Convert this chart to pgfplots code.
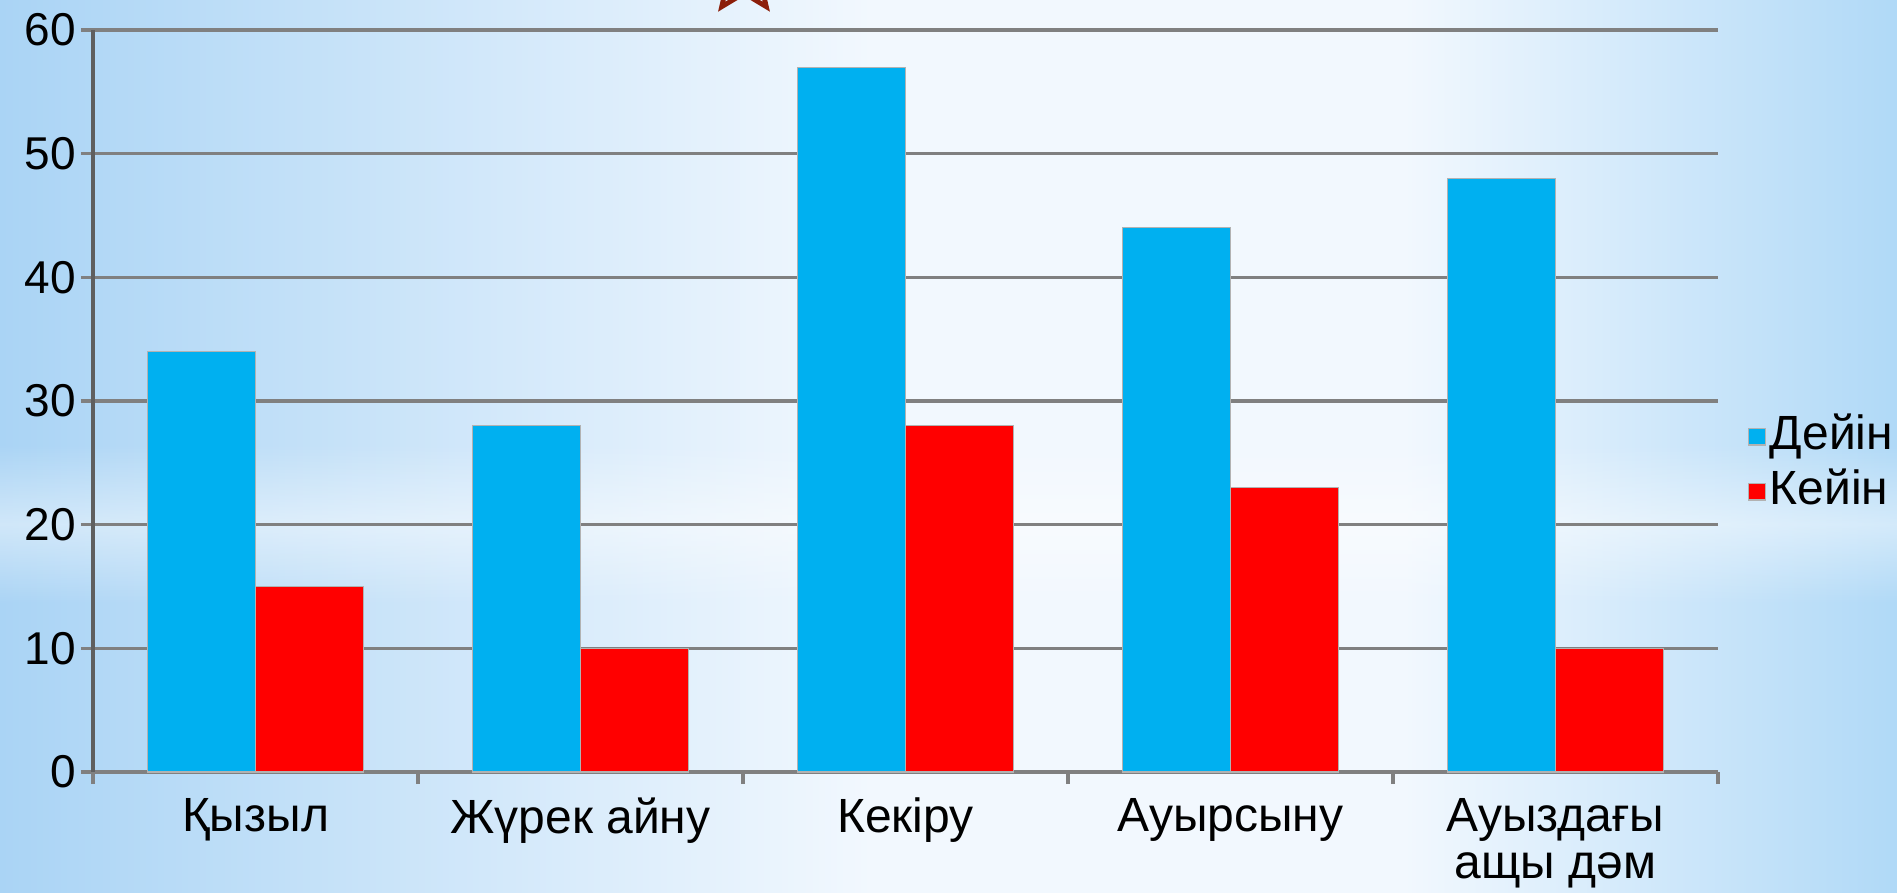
\documentclass[border=0pt]{standalone}
\usepackage{pgfplots}
\pgfplotsset{compat=1.18}
\usepackage{fontspec}
\setmainfont{Liberation Sans}
\usetikzlibrary{shapes.geometric,fadings}
\definecolor{barblue}{RGB}{0,176,240}
\definecolor{barred}{RGB}{255,0,0}
\definecolor{gridgray}{RGB}{128,128,128}
\definecolor{axisgray}{RGB}{95,95,95}
\definecolor{bgblueL}{RGB}{170,212,245}
\definecolor{bgblueR}{RGB}{176,217,247}
\definecolor{bgwhite}{RGB}{242,248,254}
\definecolor{starred}{RGB}{140,30,10}
\pgfdeclarehorizontalshading{bgshade}{100bp}{color(0bp)=(bgblueL); color(25bp)=(bgblueL); color(48bp)=(bgwhite); color(62bp)=(bgwhite); color(75bp)=(bgblueR); color(100bp)=(bgblueR)}
\tikzfading[name=bandfade, top color=transparent!100, bottom color=transparent!100, middle color=transparent!0]

\pgfplotstableread{
x  dein  kein
0  34    15
1  28    10
2  57    28
3  44    23
4  48    10
}\datatable

\begin{document}
\begin{tikzpicture}[x=1pt,y=1pt]
\useasboundingbox (0,0) rectangle (474.25,223);
\shade[shading=bgshade] (0,0) rectangle (474.25,223);
\fill[white, opacity=0.45, path fading=bandfade] (0,72) rectangle (474.25,112);
\node[star, star points=5, star point ratio=2.2, draw=starred, line width=1.2pt, minimum size=19pt, inner sep=0pt] at (186,229) {};
\begin{axis}[
  at={(23.25pt,30pt)}, anchor=south west,
  scale only axis, width=406.25pt, height=185.5pt,
  xmin=-0.5, xmax=4.5, ymin=0, ymax=60,
  ytick={0,10,...,60},
  xtick={-0.5,0.5,1.5,2.5,3.5,4.5},
  xticklabels={Қызыл, Жүрек айну, Кекіру, Ауырсыну, {Ауыздағы\\ащы дәм}, {}},
  xticklabel style={xshift=40.625pt, align=center, font=\fontsize{12}{11.75}\selectfont},
  yticklabel style={font=\fontsize{11.5}{14}\selectfont, xshift=2.25pt},
  /pgf/number format/assume math mode=true,
  axis lines*=left,
  axis line style={draw=gridgray, line width=0.8pt},
  y axis line style={draw=axisgray},
  ymajorgrids, grid style={draw=gridgray, line width=0.8pt},
  tick style={draw=gridgray, line width=0.8pt},
  tick align=outside, major tick length=3pt,
  legend style={at={(1,0.415)}, anchor=west, xshift=7.2pt, draw=none, fill=none,
    font=\fontsize{12}{14}\selectfont, inner sep=0pt, row sep=0.25pt,
    nodes={inner sep=1pt, text height=9pt, text depth=2.5pt}},
  legend cell align=left,
  legend image code/.code={\fill[#1] (0pt,-2.1pt) rectangle (4.25pt,2.1pt);},
]
\addplot[ybar, bar width=0.332, bar shift=-0.166, fill=barblue, draw=gray!60, line width=0.3pt] table[x=x, y=dein] {\datatable};
\addlegendentry{Дейін}
\addplot[ybar, bar width=0.332, bar shift=0.166, fill=barred, draw=gray!60, line width=0.3pt] table[x=x, y=kein] {\datatable};
\addlegendentry{Кейін}
\end{axis}
\end{tikzpicture}
\end{document}
